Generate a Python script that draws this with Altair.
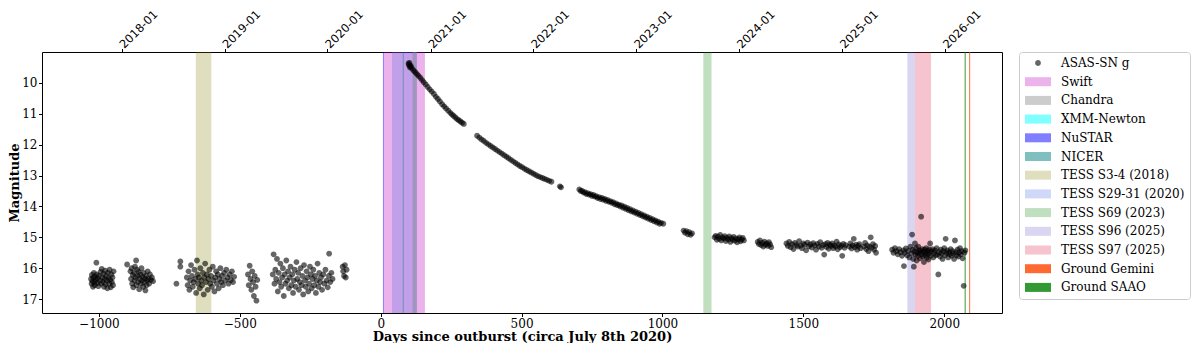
import altair as alt
import pandas as pd

# ---------------- legend / categories ----------------
LABELS = ["ASAS-SN g", "Swift", "Chandra", "XMM-Newton", "NuSTAR", "NICER",
          "TESS S3-4 (2018)", "TESS S29-31 (2020)", "TESS S69 (2023)",
          "TESS S96 (2025)", "TESS S97 (2025)", "Ground Gemini", "Ground SAAO"]
COLORS = ["rgba(0,0,0,0.6)", "rgba(191,0,191,0.3)", "rgba(128,128,128,0.4)",
          "rgba(0,255,255,0.5)", "rgba(0,0,255,0.5)", "rgba(0,128,128,0.5)",
          "rgba(128,128,0,0.25)", "rgba(65,105,225,0.25)", "rgba(0,128,0,0.25)",
          "rgba(106,90,205,0.25)", "rgba(220,20,60,0.25)", "rgba(255,69,0,0.8)",
          "rgba(0,128,0,0.8)"]

# ---------------- observation windows (days since outburst) ----------------
BAND_LABELS = ["Swift", "TESS S29-31 (2020)", "XMM-Newton", "Chandra", "NuSTAR", "NICER",
               "TESS S3-4 (2018)", "TESS S69 (2023)", "TESS S96 (2025)",
               "TESS S97 (2025)", "Ground SAAO", "Ground Gemini"]
BAND_START = [10, 40, 119, 113, 8, 78.5, -656, 1145, 1869, 1896, 2072.5, 2088.5]
BAND_END = [157, 129, 120, 128, 11, 81.5, -601, 1174, 1896, 1953, 2076, 2092]

# ---------------- ASAS-SN g light curve (day, mag) ----------------
S1 = [(-1028,16.35),(-1026,16.5),(-1025,16.22),(-1023,16.42),(-1021,16.6),(-1020,16.3),(-1018,16.15),
      (-1016,16.45),(-1015,16.55),(-1013,16.28),(-1011,16.38),(-1009,15.82),(-1008,16.2),(-1006,16.48),
      (-1004,16.33),(-1002,16.58),(-1000,16.25),(-997,16.4),(-994,16.12),(-992,16.5),(-990,16.02),
      (-988,16.3),(-986,16.44),(-984,16.18),(-982,16.6),(-980,16.35),(-978,16.08),(-976,16.52),
      (-974,16.25),(-972,16.4),(-970,16.65),(-968,16.15),(-966,16.32),(-964,16.5),(-962,16.05),
      (-960,16.38),(-958,16.62),(-956,16.2),(-954,16.45),(-952,16.3),(-950,16.55),(-948,16.1)]
S2 = [(-900,15.88),(-888,16.1),(-886,16.35),(-884,16.0),(-882,16.5),(-880,16.22),(-878,16.62),
      (-876,16.15),(-874,16.4),(-872,15.95),(-870,16.3),(-868,15.75),(-867,16.55),(-865,16.05),
      (-863,16.25),(-861,16.45),(-859,16.12),(-857,16.68),(-855,16.35),(-853,16.2),(-851,16.5),
      (-849,16.0),(-847,16.4),(-845,16.28),(-843,16.6),(-841,16.15),(-839,16.45),(-837,16.33),
      (-835,16.72),(-833,16.25),(-831,16.55),(-829,16.4),(-827,16.1),(-825,16.35),(-822,16.5),
      (-819,16.2),(-816,16.38),(-812,16.3),(-808,16.42)]
S3 = [(-725,16.5),(-711,15.78),(-711,15.95),
      (-688,16.3),(-685,16.55),(-682,16.1),(-679,16.7),(-676,16.4),(-673,15.9),(-670,16.25),
      (-667,16.6),(-664,16.45),(-661,16.05),(-658,16.35),(-655,16.8),(-652,15.75),(-650,16.2),
      (-648,16.5),(-645,16.3),(-642,16.65),(-640,16.0),(-637,16.4),(-634,16.55),(-631,16.15),
      (-628,16.85),(-626,16.3),(-623,15.85),(-620,16.45),(-617,16.2),(-614,16.7),(-611,16.35),
      (-608,16.05),(-605,16.5),(-602,16.25),(-599,16.6),(-596,15.95),(-593,16.4),(-590,16.75),
      (-587,16.3),(-584,16.1),(-581,16.5),(-578,16.2),(-575,16.65),(-572,16.35),(-569,16.0),
      (-566,16.45),(-563,16.25),(-560,16.55),(-556,16.15),(-552,16.4),(-548,16.05),(-544,16.3),
      (-540,16.5),(-536,16.2),(-532,16.38),(-528,16.1),(-524,16.45),(-520,16.28)]
S4 = [(-471,16.2),(-468,16.55),(-465,15.92),(-462,16.35),(-459,16.7),(-456,16.1),(-453,16.45),
      (-450,16.9),(-447,16.25),(-444,16.6),(-441,17.05),(-438,16.38)]
S5 = [(-383,16.2),(-380,15.55),(-377,16.5),(-374,16.05),(-371,16.35),(-368,15.7),(-365,16.75),
      (-362,16.15),(-359,16.45),(-356,15.85),(-353,16.6),(-350,16.3),(-347,16.0),(-344,16.9),
      (-341,16.2),(-338,16.5),(-335,15.75),(-332,16.4),(-329,16.1),(-326,16.65),(-323,16.3),
      (-320,15.95),(-317,16.55),(-314,16.2),(-311,16.8),(-308,16.4),(-305,16.05),(-302,16.6),
      (-299,15.8),(-296,16.35),(-293,16.15),(-290,16.7),(-287,16.45),(-284,16.0),(-281,16.55),
      (-278,16.25),(-275,16.85),(-272,15.9),(-269,16.4),(-266,16.6),(-263,16.1),(-260,16.3),
      (-257,16.75),(-254,16.5),(-251,15.95),(-248,16.2),(-245,16.65),(-242,16.35),(-239,16.05),
      (-236,16.55),(-233,16.25),(-230,16.8),(-227,16.4),(-224,15.85),(-221,16.6),(-218,16.15),
      (-215,16.45),(-212,16.3),(-208,16.7),(-204,16.2),(-200,16.5),(-196,16.05),(-192,16.4),
      (-188,16.62),(-184,16.25),(-183,15.53),(-179,16.45),(-175,16.15),(-171,16.35)]
S6 = [(-135,15.95),(-133,16.1),(-130,16.25),(-127,15.9),(-124,16.3),(-121,16.05)]
D1 = [(99,9.37),(100,9.42),(102,9.35),(104,9.5),(105,9.46),(107,9.45),(110,9.52),(115,9.58),
      (120,9.63),(125,9.68),(130,9.73),(135,9.78),(141,9.84),(147,9.91),(153,9.98),(160,10.05),
      (167,10.13),(174,10.21),(181,10.28),(189,10.36),(196,10.45),(203,10.52),(210,10.6),
      (218,10.69),(225,10.76),(232,10.83),(240,10.9),(247,10.97),(253,11.02),(259,11.07),
      (265,11.12),(271,11.17),(277,11.21),(283,11.25),(289,11.29),(295,11.33)]
D2 = [(342,11.71),(350,11.77),(358,11.83),(366,11.88),(374,11.94),(382,11.99),(390,12.04),
      (398,12.09),(406,12.14),(414,12.19),(422,12.24),(430,12.29),(438,12.34),(446,12.39),
      (454,12.44),(462,12.49),(470,12.54),(478,12.59),(486,12.64),(494,12.69),(502,12.73),
      (510,12.78),(518,12.82),(526,12.86),(534,12.9),(542,12.94),(550,12.98),(558,13.02),
      (566,13.05),(574,13.08),(582,13.11),(590,13.14),(598,13.17),(606,13.2),(636,13.35),(640,13.38)]
D3 = [(705,13.45),(710,13.5),(715,13.5),(720,13.55),(725,13.54),(730,13.6),(735,13.57),(740,13.62),
      (745,13.6),(750,13.66),(755,13.63),(760,13.68),(765,13.67),(770,13.73),(775,13.7),(780,13.76),
      (785,13.72),(790,13.78),(795,13.76),(800,13.82),(805,13.79),(810,13.85),(815,13.83),
      (820,13.88),(825,13.86),(830,13.93),(835,13.9),(840,13.96),(845,13.94),(850,14.0),
      (855,13.97),(860,14.04),(865,14.01),(870,14.08),(875,14.05),(880,14.12),(885,14.09),
      (890,14.16),(895,14.13),(900,14.2),(905,14.17),(910,14.24),(915,14.21),(920,14.28),
      (925,14.25),(930,14.32),(935,14.29),(940,14.36),(945,14.33),(950,14.4),(955,14.37),
      (960,14.44),(965,14.41),(970,14.48),(975,14.45),(980,14.52),(985,14.49),(990,14.56),
      (995,14.53),(1003,14.56)]
D4 = [(1075,14.78),(1080,14.85),(1085,14.8),(1090,14.9),(1095,14.83),(1100,14.92),(1105,14.87)]
P5 = [(1185,15.0),(1189,14.95),(1193,15.08),(1197,14.98),(1201,15.05),(1205,14.92),(1209,15.1),
      (1213,15.0),(1217,15.04),(1221,14.96),(1225,15.12),(1229,15.02),(1233,15.07),(1237,14.97),
      (1241,15.15),(1245,15.03),(1249,15.08),(1253,14.99),(1257,15.11),(1261,15.04),(1265,15.16),
      (1269,15.06),(1273,15.0),(1277,15.13),(1281,15.07),(1285,15.02),(1289,15.1)]
P6 = [(1338,15.15),(1342,15.22),(1346,15.1),(1350,15.25),(1354,15.18),(1358,15.3),(1362,15.14),
      (1366,15.24),(1370,15.2),(1374,15.28),(1378,15.16),(1382,15.23),(1386,15.32)]
P7 = [(1440,15.2),(1445,15.28),(1450,15.15),(1455,15.32),(1460,15.22),(1465,15.38),(1470,15.18),
      (1475,15.25),(1480,15.3),(1485,15.12),(1490,15.27),(1495,15.35),(1500,15.2),(1505,15.24),
      (1510,15.42),(1515,15.17),(1520,15.29),(1525,15.23),(1530,15.33),(1535,15.19),(1540,15.26),
      (1545,15.4),(1550,15.21),(1555,15.3),(1560,15.16),(1565,15.34),(1570,15.25),(1574,15.56),
      (1578,15.22),(1582,15.31),(1586,15.18),(1590,15.37),(1594,15.24),(1598,15.28),(1602,15.2),
      (1606,15.35),(1610,15.26),(1614,15.3),(1618,15.14),(1622,15.39),(1626,15.23),(1630,15.32),
      (1634,15.27),(1638,15.6),(1642,15.21),(1646,15.34),(1650,15.25),(1663,15.3),(1667,15.2),
      (1671,15.36),(1675,15.26),(1679,15.05),(1683,15.32),(1687,15.24),(1691,15.4),(1695,15.28),
      (1699,15.22),(1703,15.35),(1715,15.3),(1719,15.18),(1723,15.38),(1727,15.26),(1731,15.45),
      (1735,15.3),(1739,15.0),(1743,15.34),(1747,15.22),(1751,15.4),(1755,15.28),(1758,15.5)]
P8 = [(1815,15.4),(1820,15.5),(1825,15.35),(1830,15.45),(1835,15.55),(1840,15.38),(1845,15.48),
      (1850,15.6),(1855,15.42),(1857,15.93),(1860,15.5),(1864,15.36),(1868,15.58),(1872,15.44),
      (1876,15.65),(1880,15.3),(1884,15.52),(1886,14.91),(1888,15.4),(1890,15.7),(1892,15.95),
      (1894,15.46),(1896,15.2),(1898,15.56),(1900,15.35),(1902,15.75),(1904,15.48),(1906,15.6),
      (1908,15.3),(1910,15.52),(1912,15.42),(1914,15.68),(1916,15.45),(1918,14.33),(1920,15.55),
      (1922,15.38),(1924,15.62),(1926,15.47),(1928,15.8),(1930,15.4),(1932,15.58),(1934,15.5),
      (1936,15.35),(1938,15.66),(1940,15.44),(1942,15.55),(1944,15.72),(1946,15.4),(1948,15.5),
      (1950,15.2),(1952,15.6),(1955,15.45),(1958,15.38),(1961,15.65),(1964,15.5),(1967,15.42),
      (1970,15.58),(1973,15.35),(1976,15.55),(1979,16.2),(1982,15.48),(1985,15.62),(1988,15.4),
      (1991,15.52),(1994,15.7),(1997,15.45),(2000,15.35),(2003,15.58),(2005,15.05),(2008,15.5),
      (2011,15.42),(2014,15.65),(2017,15.48),(2020,15.55),(2023,15.38),(2026,15.6),(2029,15.45),
      (2032,15.52),(2035,15.7),(2038,15.1),(2041,15.48),(2044,15.58),(2047,15.4),(2050,15.62),
      (2053,15.5),(2056,15.35),(2059,15.55),(2062,15.45),(2065,15.68),(2069,16.57),(2072,15.5),
      (2075,15.42)]
SEASONS = [S1, S2, S3, S4, S5, S6, D1, D2, D3, D4, P5, P6, P7, P8]

# ---------------- axes ----------------
X_TICKS = [-1000, -500, 0, 500, 1000, 1500, 2000]
TOP_TICKS = [-919, -554, -189, 177, 542, 907, 1272, 1638, 2003]  # Jan 1st of 2018..2026
Y_TICKS = [10, 11, 12, 13, 14, 15, 16, 17]
X_DOMAIN = [-1202, 2205]
Y_DOMAIN = [9.0, 17.45]

rows = []
for season in SEASONS:
    for d, m in season:
        rows.append({"day": d, "mag": m, "label": "ASAS-SN g"})
pts = pd.DataFrame(rows)
bands = pd.DataFrame({"label": BAND_LABELS, "start": BAND_START, "end": BAND_END})

SERIF = "DejaVu Serif"
CIRCLE = "M0.58,0A0.58,0.58,0,1,1,-0.58,0A0.58,0.58,0,1,1,0.58,0Z"
RECT = "M-2.6,-0.9H2.6V0.9H-2.6Z"

xscale = alt.Scale(domain=X_DOMAIN, nice=False, zero=False)
color_scale = alt.Scale(domain=LABELS, range=COLORS)
shape_scale = alt.Scale(domain=LABELS, range=[CIRCLE] + [RECT] * (len(LABELS) - 1))

bottom_axis = alt.Axis(values=X_TICKS, format="d", title="Days since outburst (circa July 8th 2020)",
                       labelFont=SERIF, labelFontSize=12, titleFont=SERIF, titleFontWeight="bold",
                       titleFontSize=13, grid=False, domain=False, tickColor="black", tickSize=3.5,
                       labelPadding=1.5, titlePadding=1, labelColor="black", titleColor="black")
top_axis = alt.Axis(orient="top", values=TOP_TICKS,
                    labelExpr="utcFormat(utc(2020,6,8) + datum.value*86400000, '%Y-%m')",
                    labelAngle=315, labelAlign="left", labelBaseline="middle",
                    labelFont="DejaVu Sans", labelFontSize=11.5, title=None, grid=False,
                    domain=False, tickSize=3.5, labelPadding=2, tickColor="black", labelColor="black")
y_axis = alt.Axis(values=Y_TICKS, title="Magnitude", labelFont=SERIF, labelFontSize=12,
                  titleFont=SERIF, titleFontWeight="bold", titleFontSize=13, grid=False,
                  domain=False, tickColor="black", tickSize=3.5, labelPadding=1.5, titlePadding=0,
                  labelColor="black", titleColor="black")

legend = alt.Legend(title=None, orient="right", symbolSize=100, symbolStrokeWidth=0,
                    symbolOffset=8, labelOffset=17, rowPadding=6.7, padding=5,
                    fillColor="white", strokeColor="#cccccc", cornerRadius=3,
                    labelFont=SERIF, labelFontSize=12, labelColor="black", offset=17)

band_layer = alt.Chart(bands).mark_rect().encode(
    x=alt.X("start:Q", scale=xscale, axis=bottom_axis),
    x2="end:Q",
    color=alt.Color("label:N", scale=color_scale, legend=legend),
)

point_layer = alt.Chart(pts).mark_point(filled=True, size=100, opacity=1, strokeWidth=0).encode(
    x=alt.X("day:Q", scale=xscale, axis=top_axis),
    y=alt.Y("mag:Q", scale=alt.Scale(domain=Y_DOMAIN, reverse=True, nice=False, zero=False), axis=y_axis),
    color=alt.Color("label:N", scale=color_scale, legend=legend),
    shape=alt.Shape("label:N", scale=shape_scale, legend=legend),
)

chart = (
    alt.layer(band_layer, point_layer)
    .resolve_axis(x="independent")
    .properties(width=960, height=261, padding={"left": 0, "top": 0, "right": 0, "bottom": 0},
                background="white")
    .configure_view(stroke="black", strokeWidth=1)
)

chart.save("out.html", embed_options={"renderer": "svg", "actions": False})
